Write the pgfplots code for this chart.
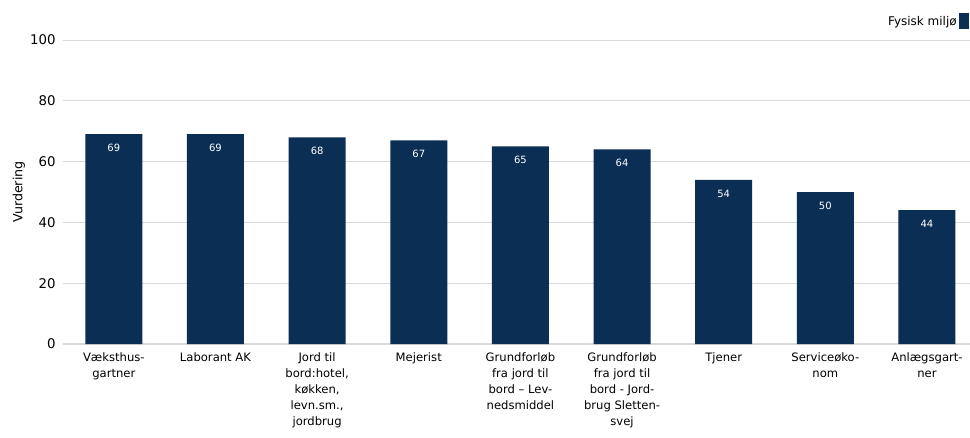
\documentclass[border=0pt]{standalone}
\usepackage{pgfplots}
\pgfplotsset{compat=1.18}
\usepackage{fontspec}
\setmainfont{DejaVu Sans}
\definecolor{navy}{HTML}{0B2E55}
\definecolor{gridgray}{HTML}{D9D9D9}

\begin{document}
\begin{tikzpicture}
\begin{axis}[
    at={(0,0)}, anchor=south west,
    scale only axis,
    width=680pt, height=228pt,
    ybar, bar width=42.75pt,
    ymin=0, ymax=100, ytick={0,20,...,100},
    xmin=-0.5, xmax=8.42,
    xtick=data,
    xticklabels={{Væksthus-\\gartner}, {Laborant AK}, {Jord til\\bord:hotel,\\køkken,\\levn.sm.,\\jordbrug}, {Mejerist}, {Grundforløb\\fra jord til\\bord – Lev-\\nedsmiddel}, {Grundforløb\\fra jord til\\bord - Jord-\\brug Sletten-\\svej}, {Tjener}, {Serviceøko-\\nom}, {Anlægsgart-\\ner}},
    xticklabel style={align=center, font=\fontsize{8.7}{12}\selectfont, yshift=-3pt},
    yticklabel style={font=\fontsize{10}{12}\selectfont, xshift=-2pt},
    /pgf/number format/assume math mode=true,
    ylabel={Vurdering},
    ylabel style={font=\fontsize{9.5}{12}\selectfont, yshift=-3pt},
    major tick length=0pt,
    axis x line*=bottom, axis y line*=left,
    y axis line style={draw=none},
    x axis line style={draw=gridgray, line width=0.8pt},
    ymajorgrids, grid style={draw=gridgray, line width=0.6pt},
    nodes near coords,
    nodes near coords style={anchor=north, text=white, yshift=-4pt, font=\fontsize{7.5}{9}\selectfont},
    legend style={draw=none, at={(1,1.03)}, anchor=south east, font=\fontsize{9}{11}\selectfont, inner sep=0pt, legend cell align=right},
    legend plot pos=right,
    legend image code/.code={\fill[navy] (4pt,-5pt) rectangle (11.5pt,7pt);},
    clip=false,
]
\addplot[fill=navy, draw=none] coordinates {(0,69)(1,69)(2,68)(3,67)(4,65)(5,64)(6,54)(7,50)(8,44)};
\addlegendentry{Fysisk miljø}
\end{axis}
\pgfresetboundingbox
\path (-47.25pt,-69.75pt) rectangle (680.25pt,258pt);
\end{tikzpicture}
\end{document}
